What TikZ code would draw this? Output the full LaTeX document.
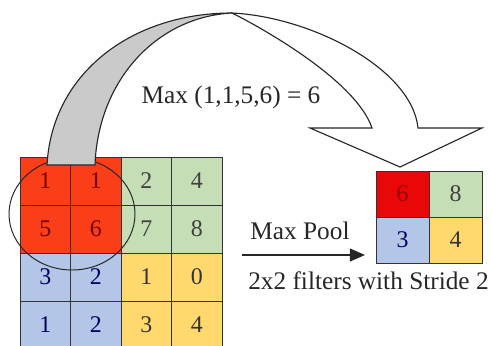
\documentclass[tikz,border=0pt]{standalone}
\usepackage{fontspec}
\setmainfont{Liberation Serif}
\usetikzlibrary{positioning, arrows.meta}

\definecolor{in_red}{RGB}{250,62,24}
\definecolor{out_red}{RGB}{232,8,8}
\definecolor{cell_green}{RGB}{198,222,181}
\definecolor{cell_blue}{RGB}{180,198,231}
\definecolor{cell_yellow}{RGB}{255,217,110}
\definecolor{band_gray}{RGB}{202,202,202}

\tikzset{
    cell_node/.style={rectangle, minimum width=1.2625cm, minimum height=1.2cm, inner sep=0pt, outer sep=0pt,
        text centered, draw=black!80, line width=0.5pt, font=\fontsize{17}{20}\selectfont},
    pool_node/.style={cell_node, minimum width=1.325cm, minimum height=1.15cm},
    red_in/.style={fill=in_red, text=red!45!black},
    red_out/.style={fill=out_red, text=red!60!black},
    green_cell/.style={fill=cell_green, text=black!75},
    blue_cell/.style={fill=cell_blue, text=blue!35!black},
    yellow_cell/.style={fill=cell_yellow, text=black!80},
    label_text/.style={font=\fontsize{18}{21}\selectfont, text=black!85, inner sep=0pt},
    arrow/.style={line width=1.3pt, -{Triangle[length=3.8mm, width=3.2mm]}},
    block_arrow/.style={draw=black!85, line width=0.8pt, line join=miter},
    window/.style={draw=black!85, line width=0.7pt},
}

\begin{document}
\begin{tikzpicture}[node distance=0pt]
      \useasboundingbox (0,0) rectangle (12.275,8.625);

      %%%%%%%%%%%%%%%%
      % INPUT 4x4    %
      %%%%%%%%%%%%%%%%
      \node (in_1_1) [cell_node, red_in] at (1.13125,4.1) {1};
      \node (in_1_2) [cell_node, red_in, right = of in_1_1] {1};
      \node (in_1_3) [cell_node, green_cell, right = of in_1_2] {2};
      \node (in_1_4) [cell_node, green_cell, right = of in_1_3] {4};

      \node (in_2_1) [cell_node, red_in, below = of in_1_1] {5};
      \node (in_2_2) [cell_node, red_in, right = of in_2_1] {6};
      \node (in_2_3) [cell_node, green_cell, right = of in_2_2] {7};
      \node (in_2_4) [cell_node, green_cell, right = of in_2_3] {8};

      \node (in_3_1) [cell_node, blue_cell, below = of in_2_1] {3};
      \node (in_3_2) [cell_node, blue_cell, right = of in_3_1] {2};
      \node (in_3_3) [cell_node, yellow_cell, right = of in_3_2] {1};
      \node (in_3_4) [cell_node, yellow_cell, right = of in_3_3] {0};

      \node (in_4_1) [cell_node, blue_cell, below = of in_3_1] {1};
      \node (in_4_2) [cell_node, blue_cell, right = of in_4_1] {2};
      \node (in_4_3) [cell_node, yellow_cell, right = of in_4_2] {3};
      \node (in_4_4) [cell_node, yellow_cell, right = of in_4_3] {4};

      % pooling window
      \draw [window] (1.8,3.275) ellipse [x radius=1.575, y radius=1.4];

      %%%%%%%%%%%%%%%%
      % OUTPUT 2x2   %
      %%%%%%%%%%%%%%%%
      \node (out_1_1) [pool_node, red_out] at (10.0625,3.775) {6};
      \node (out_1_2) [pool_node, green_cell, right = of out_1_1] {8};
      \node (out_2_1) [pool_node, blue_cell, below = of out_1_1] {3};
      \node (out_2_2) [pool_node, yellow_cell, right = of out_2_1] {4};

      %%%%%%%%%%%%%%%%
      % CURVED ARROW %
      %%%%%%%%%%%%%%%%
      \coordinate (band_left) at (1.175,4.5);
      \coordinate (band_right) at (2.375,4.5);
      \coordinate (band_top) at (5.8,8.3);
      \coordinate (head_in) at (9.3,5.425);
      \coordinate (head_out) at (10.45,5.425);

      % back face
      \draw [block_arrow, fill=band_gray] (band_left)
            .. controls (1.3,6.8) and (3.3,8.3) .. (band_top)
            .. controls (3.9,8.2) and (2.45,6.6) .. (band_right) -- cycle;
      % front face and head
      \draw [block_arrow, fill=white] (band_top)
            .. controls (6.6,7.9) and (8.9,6.6) .. (head_in)
            -- (7.75,5.425) -- (10.0,4.45) -- (12.05,5.425) -- (head_out)
            .. controls (10.3,6.9) and (7.8,8.2) .. (band_top) -- cycle;

      \node (max_label) [label_text, anchor=base] at (5.775,6.05) {Max (1,1,5,6) = 6};

      %%%%%%%%%%%%%%%%
      % MAX POOL     %
      %%%%%%%%%%%%%%%%
      \coordinate (pool_start) at (6.05,2.25);
      \coordinate (pool_end) at (9.125,2.25);
      \draw [arrow, draw=black!85] (pool_start) -- (pool_end);

      \node (pool_label) [label_text, anchor=base] at (7.5,2.65) {Max Pool};
      \node (stride_label) [label_text, anchor=base west] at (6.2,1.4) {2x2 filters with Stride 2};
\end{tikzpicture}
\end{document}
